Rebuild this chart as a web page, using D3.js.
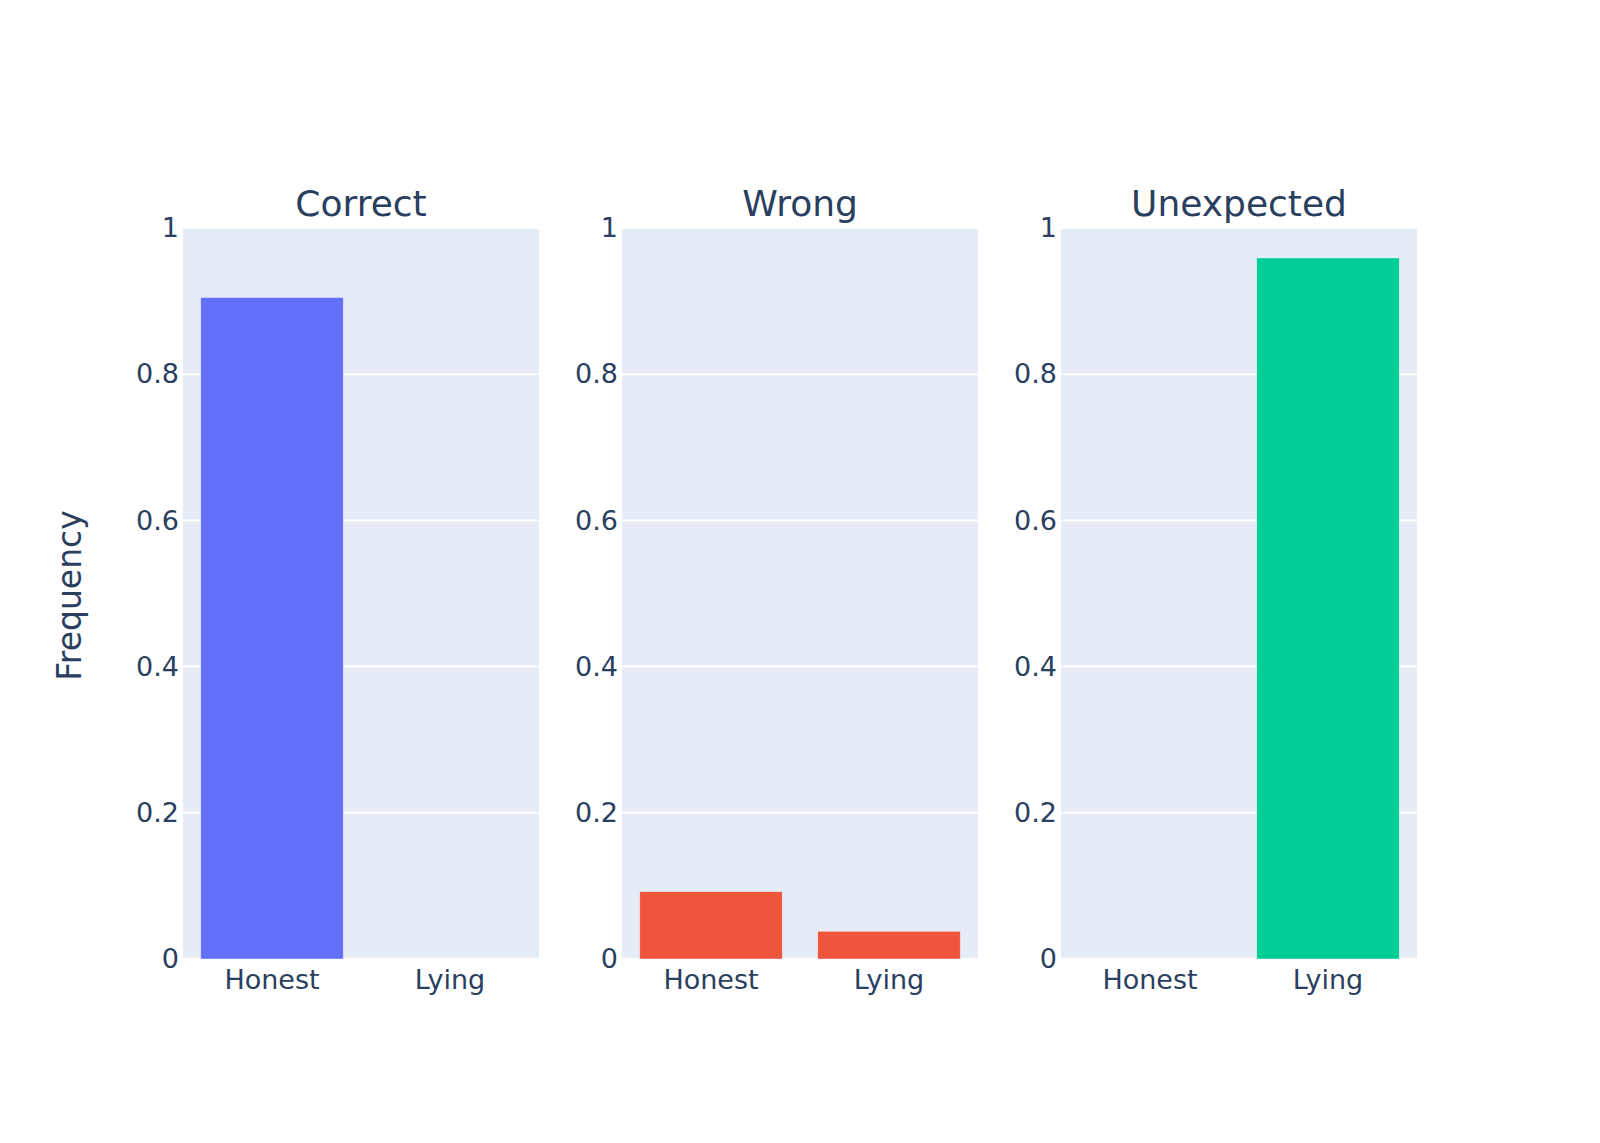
<!DOCTYPE html>
<html>
<head>
<meta charset="utf-8">
<script src="https://cdn.jsdelivr.net/npm/d3@7"></script>
<style>
  html, body { margin: 0; padding: 0; background: #fff; }
  svg { display: block; }
  text { font-family: "DejaVu Sans", Verdana, sans-serif; fill: #2a3f5f; }
</style>
</head>
<body>
<svg id="chart" width="1600" height="1143"></svg>
<script>
// ---- data ----
const categories = ["Honest", "Lying"];
const panelTitles = ["Correct", "Wrong", "Unexpected"];
const correctValues = [0.905, 0.0];
const wrongValues = [0.092, 0.038];
const unexpectedValues = [0.0, 0.959];
const panelColors = ["#636efa", "#EF553B", "#00cc96"];
const yTicks = [0, 0.2, 0.4, 0.6, 0.8, 1];
const yTickLabels = ["0", "0.2", "0.4", "0.6", "0.8", "1"];
const yAxisTitle = "Frequency";

const panelValues = [correctValues, wrongValues, unexpectedValues];

// ---- layout ----
const svg = d3.select("#chart");
const plotTop = 228, plotBottom = 959;
const panelLefts = [183, 622, 1061];
const panelWidth = 356;

const y = d3.scaleLinear().domain([0, 1]).range([plotBottom, plotTop]);

panelTitles.forEach((title, i) => {
  const x0 = panelLefts[i];
  const x = d3.scaleBand().domain(categories).range([x0, x0 + panelWidth])
    .paddingInner(0.2).paddingOuter(0.1);
  const g = svg.append("g");

  // background
  g.append("rect").attr("x", x0).attr("y", plotTop)
    .attr("width", panelWidth).attr("height", plotBottom - plotTop)
    .attr("fill", "#E5ECF6");

  // grid
  g.selectAll("line.grid").data(yTicks.filter(t => t > 0)).enter().append("line")
    .attr("x1", x0).attr("x2", x0 + panelWidth)
    .attr("y1", d => y(d)).attr("y2", d => y(d))
    .attr("stroke", "#fff").attr("stroke-width", 2);
  // zero line
  g.append("line").attr("x1", x0).attr("x2", x0 + panelWidth)
    .attr("y1", y(0)).attr("y2", y(0))
    .attr("stroke", "#fff").attr("stroke-width", 2);

  // bars
  g.selectAll("rect.bar").data(panelValues[i]).enter().append("rect")
    .attr("x", (d, j) => x(categories[j]))
    .attr("width", x.bandwidth())
    .attr("y", d => y(d))
    .attr("height", d => y(0) - y(d))
    .attr("fill", panelColors[i])
    .attr("stroke", "#E5ECF6").attr("stroke-width", 0.5);

  // y axis
  const yAxis = d3.axisLeft(y).tickValues(yTicks)
    .tickFormat((d, k) => yTickLabels[k]).tickSize(0).tickPadding(4);
  const ya = g.append("g").attr("transform", `translate(${x0},0)`).call(yAxis);
  ya.select(".domain").remove();
  ya.selectAll("text").style("font-size", "27px").attr("fill", "#2a3f5f")
    .attr("font-family", "DejaVu Sans, Verdana, sans-serif");

  // x axis
  const xAxis = d3.axisBottom(x).tickSize(0).tickPadding(0);
  const xa = g.append("g").attr("transform", `translate(0,${plotBottom})`).call(xAxis);
  xa.select(".domain").remove();
  xa.selectAll("text").attr("dy", null).attr("y", 30).style("font-size", "27px")
    .attr("fill", "#2a3f5f").attr("font-family", "DejaVu Sans, Verdana, sans-serif");

  // title
  g.append("text").attr("x", x0 + panelWidth / 2).attr("y", 216)
    .attr("text-anchor", "middle").style("font-size", "36px").text(title);
});

// y axis title
svg.append("text")
  .attr("transform", `translate(81, ${(plotTop + plotBottom) / 2 + 2}) rotate(-90)`)
  .attr("text-anchor", "middle").style("font-size", "33px").text(yAxisTitle);
</script>
</body>
</html>
